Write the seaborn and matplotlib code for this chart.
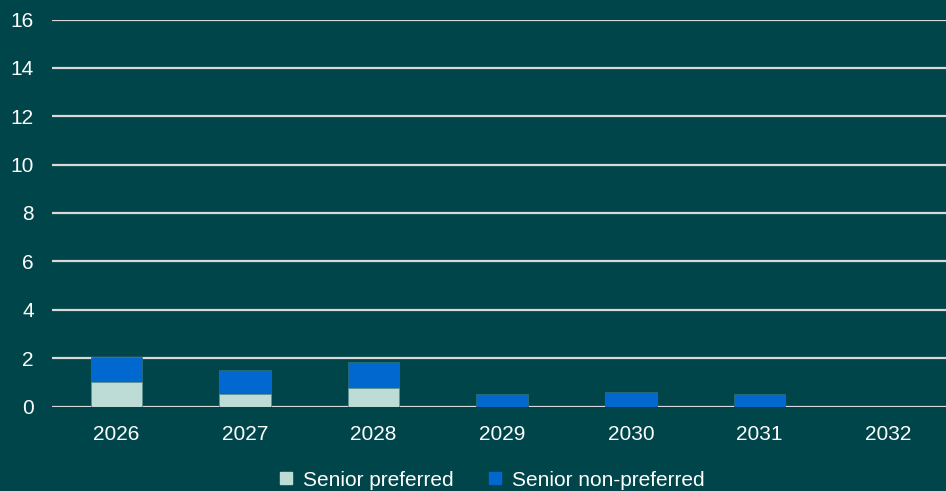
import matplotlib
matplotlib.use("Agg")
import matplotlib.pyplot as plt
from matplotlib.lines import Line2D
import seaborn as sns
import pandas as pd

# Maturity profile by year (EUR bn)
years = ["2026", "2027", "2028", "2029", "2030", "2031", "2032"]
senior_preferred = [1.0, 0.5, 0.78, 0.0, 0.0, 0.0, 0.0]
senior_non_preferred = [1.05, 1.0, 1.05, 0.5, 0.6, 0.5, 0.0]
y_ticks = [0, 2, 4, 6, 8, 10, 12, 14, 16]

BG = "#00454A"
PREF = "#BDDCD6"
NONPREF = "#0068CE"
GRID = "#D9D9D9"

sns.set_theme(style="white")
plt.rcParams["font.family"] = ["Liberation Sans", "DejaVu Sans"]

df = pd.DataFrame({
    "year": years,
    "pref": senior_preferred,
    "nonpref": senior_non_preferred,
})
df["total"] = df["pref"] + df["nonpref"]

fig = plt.figure(figsize=(9.46, 4.91), dpi=100, facecolor=BG)
ax = fig.add_axes([52 / 946, 84.5 / 491, 894 / 946, 387 / 491])
ax.set_facecolor(BG)

# Stacked bars: total in blue, preferred part drawn over it
sns.barplot(data=df, x="year", y="total", color=NONPREF, width=0.4,
            edgecolor="#2d6c78", linewidth=0.6, saturation=1, ax=ax, zorder=3)
sns.barplot(data=df, x="year", y="pref", color=PREF, width=0.4,
            edgecolor="#5f8f8f", linewidth=0.6, saturation=1, ax=ax, zorder=4)

ax.set_xlim(-0.5, 6.45)
ax.set_ylim(0, 16)
ax.set_yticks(y_ticks)
ax.set_yticklabels([str(t) for t in y_ticks])
ax.yaxis.grid(True, color=GRID, linewidth=1.6, zorder=0)
ax.set_axisbelow(True)
ax.set_xlabel("")
ax.set_ylabel("")
for s in ax.spines.values():
    s.set_visible(False)
ax.tick_params(axis="both", length=0, colors="white", labelsize=15)
ax.tick_params(axis="y", pad=13)
ax.tick_params(axis="x", pad=13)
for lab in ax.get_xticklabels() + ax.get_yticklabels():
    lab.set_color("white")

handles = [
    Line2D([], [], marker="s", linestyle="none", markersize=8,
           markerfacecolor=PREF, markeredgecolor=PREF),
    Line2D([], [], marker="s", linestyle="none", markersize=8,
           markerfacecolor=NONPREF, markeredgecolor=NONPREF),
]
leg = fig.legend(handles, ["Senior preferred", "Senior non-preferred"],
                 loc="center", bbox_to_anchor=(491 / 946, 1 - 480 / 491),
                 ncol=2, frameon=False, fontsize=15, handlelength=0.8,
                 handletextpad=0.4, columnspacing=1.6, borderpad=0)
for t in leg.get_texts():
    t.set_color("white")

fig.savefig("out.png", dpi=100, facecolor=BG)
